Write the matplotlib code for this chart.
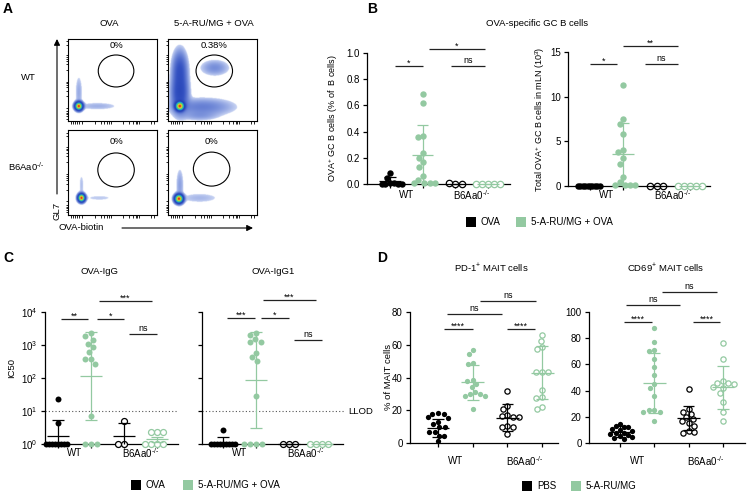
import numpy as np
import matplotlib
matplotlib.use('Agg')
import matplotlib.pyplot as plt
from matplotlib.patches import Ellipse, Rectangle
from matplotlib.colors import LinearSegmentedColormap

plt.rcParams['font.family'] = ['Liberation Sans', 'DejaVu Sans']
plt.rcParams['mathtext.fontset'] = 'custom'
plt.rcParams['mathtext.rm'] = 'Liberation Sans'
plt.rcParams['mathtext.it'] = 'Liberation Sans:italic'
plt.rcParams['mathtext.bf'] = 'Liberation Sans:bold'

W, H = 748, 495
GREEN = '#93c9a1'

# ---------------- DATA ----------------
genotypes = ['WT', 'B6Aa0$^{\\text{-/-}}$']
flow_cols = ['OVA', '5-A-RU/MG + OVA']
flow_rows = ['WT', 'B6Aa0$^{\\text{-/-}}$']
flow_pct = [['0%', '0.38%'], ['0%', '0%']]
legend_BC = ['OVA', '5-A-RU/MG + OVA']
legend_D = ['PBS', '5-A-RU/MG']

# flow density blobs: (cx, cy, sx, sy, weight)
A_wt_ova = [(0.12, 0.18, 0.022, 0.025, 1.0), (0.12, 0.35, 0.025, 0.13, 0.008), (0.33, 0.18, 0.15, 0.03, 0.007)]
A_wt_5a = [(0.13, 0.18, 0.025, 0.028, 1.0), (0.13, 0.34, 0.05, 0.13, 0.08), (0.13, 0.62, 0.045, 0.13, 0.06),
           (0.38, 0.17, 0.2, 0.06, 0.022), (0.52, 0.65, 0.09, 0.055, 0.016), (0.35, 0.06, 0.12, 0.035, 0.01)]
A_ko_ova = [(0.15, 0.2, 0.02, 0.024, 1.0), (0.15, 0.35, 0.02, 0.1, 0.005), (0.35, 0.2, 0.15, 0.03, 0.004)]
A_ko_5a = [(0.12, 0.19, 0.024, 0.026, 1.0), (0.13, 0.35, 0.025, 0.12, 0.01), (0.35, 0.2, 0.15, 0.04, 0.006)]

# Panel B left: OVA+ GC B cells (% of B cells)
b1_wt_ova = [0.085, 0.045, 0.01, 0.005, 0.0, 0.0, 0.0, 0.0]
b1_wt_5a = [0.685, 0.62, 0.37, 0.355, 0.24, 0.2, 0.165, 0.13, 0.06, 0.03, 0.01, 0.01, 0.01, 0.01]
b1_ko_ova = [0.0, 0.005, 0.0]
b1_ko_5a = [0.0, 0.0, 0.0, 0.0, 0.0]
b1_mean = [0.02, 0.22, 0.0, 0.0]
b1_sd = [0.03, 0.23, 0.0, 0.0]

# Panel B right: total OVA+ GC B cells in mLN (10^3)
b2_wt_ova = [0.0, 0.0, 0.0, 0.0, 0.0, 0.0, 0.0, 0.0, 0.0, 0.0]
b2_wt_5a = [11.3, 7.5, 6.9, 5.8, 4.0, 3.8, 3.1, 2.5, 1.0, 0.4, 0.15, 0.1, 0.1, 0.1]
b2_ko_ova = [0.0, 0.0, 0.0]
b2_ko_5a = [0.0, 0.0, 0.0, 0.0, 0.0]
b2_mean = [0.0, 3.55, 0.0, 0.0]
b2_sd = [0.0, 3.45, 0.0, 0.0]

# Panel C left: OVA-IgG IC50 (geometric mean, geometric SD factor)
c1_wt_ova = [23, 4.2, 1, 1, 1, 1, 1, 1, 1, 1]
c1_wt_5a = [2240, 1900, 1450, 1100, 850, 600, 380, 370, 270, 7, 1, 1, 1]
c1_ko_ova = [5.0, 1, 1]
c1_ko_5a = [2.3, 2.3, 2.3, 1, 1, 1, 1]
c1_mean = [1.8, 115, 1.75, 1.4]
c1_gsd = [3.06, 21.3, 2.46, 1.2]

# Panel C right: OVA-IgG1 IC50
c2_wt_ova = [2.7, 1, 1, 1, 1, 1, 1, 1, 1, 1]
c2_wt_5a = [2350, 2000, 1500, 1250, 1250, 590, 425, 330, 28, 1, 1, 1, 1]
c2_ko_ova = [1, 1, 1]
c2_ko_5a = [1, 1, 1, 1]
c2_mean = [1.1, 87, 1.0, 1.0]
c2_gsd = [1.45, 28.0, 1.0, 1.0]
LLOD = 10

# Panel D left: PD-1+ MAIT cells (% of MAIT)
d1_wt_pbs = [18.5, 18, 17.5, 16, 15.5, 13, 11.5, 9.5, 9.5, 7, 7, 4.5, 4, 1]
d1_wt_5a = [57, 54.5, 49, 48, 38.5, 38, 36, 34, 31, 30, 30, 29, 28.5, 21]
d1_ko_pbs = [31.5, 22.5, 20.5, 17, 16.5, 16, 16, 10.5, 10, 9.5, 5.5]
d1_ko_5a = [66, 62.5, 58.5, 57.5, 43.5, 43.5, 43.5, 32.5, 28, 27.5, 22, 21]
d1_mean = [9.0, 37.0, 15.5, 43.0]
d1_sd = [5.6, 10.5, 8.3, 16.0]

# Panel D right: CD69+ MAIT cells (% of MAIT)
d2_wt_pbs = [14.5, 13, 12.5, 12, 11, 10, 9, 8, 7.5, 7, 6, 5, 4.5, 4, 3]
d2_wt_5a = [88, 77, 71, 70, 64, 58, 52, 45, 42, 36, 25, 25, 24, 24, 17]
d2_ko_pbs = [41.5, 26, 24, 22, 20, 18, 17, 15, 13, 9, 8, 8.5]
d2_ko_5a = [76, 64, 47, 46, 45.5, 45, 43, 42, 38, 31, 24, 17]
d2_mean = [8.6, 45.6, 19.0, 42.5]
d2_sd = [4.0, 23.0, 9.0, 16.3]

# significance bars: (x start, x end, y, label)
b1_sig = [(0.15, 1.0, 0.90, '*'), (1.2, 2.9, 1.03, '*'), (1.87, 2.9, 0.90, 'ns')]
b2_sig = [(0.0, 0.81, 13.7, '*'), (1.0, 2.64, 15.7, '**'), (1.65, 2.64, 13.7, 'ns')]
c1_sig = [(0.09, 0.91, 6170, '**'), (1.18, 2.0, 6170, '*'), (1.24, 2.85, 21400, '***'), (2.15, 3.0, 2140, 'ns')]
c2_sig = [(0.12, 0.97, 6600, '***'), (1.15, 2.0, 6600, '*'), (1.21, 2.82, 22900, '***'), (2.15, 3.0, 1410, 'ns')]
d1_sig = [(0.17, 1.0, 69.5, '****'), (0.26, 1.84, 78.7, 'ns'), (2.0, 2.8, 69.5, '****'), (1.2, 2.82, 86.6, 'ns')]
d2_sig = [(0.12, 0.93, 92.4, '****'), (0.17, 1.75, 105, 'ns'), (2.13, 2.92, 92.4, '****'), (1.22, 2.83, 115, 'ns')]

# ---------------- LAYOUT ----------------
fig = plt.figure(figsize=(W / 100, H / 100), dpi=100)


def px_rect(x0, y0, x1, y1):
    return [x0 / W, 1 - y1 / H, (x1 - x0) / W, (y1 - y0) / H]


LAY = {
    'B1': dict(box=(367, 53, 510, 184), g0=390, sp=32.7),
    'B2': dict(box=(568, 52, 710, 186), g0=590, sp=33.3),
    'C1': dict(box=(45, 312, 178, 444), g0=58, sp=33.0),
    'C2': dict(box=(202, 312, 343, 444), g0=223, sp=33.0),
    'D1': dict(box=(410, 312, 558, 443), g0=438, sp=34.7),
    'D2': dict(box=(589, 312, 745, 443), g0=620, sp=34.3),
}

FACE = ['black', GREEN, 'white', 'white']
EDGE = ['black', GREEN, 'black', GREEN]


def swarm(ypx, d):
    placed = []
    xs = []
    for y in ypx:
        cands = [0.0]
        intervals = []
        for (px, py) in placed:
            dy = abs(py - y)
            if dy < d:
                w = np.sqrt(d * d - dy * dy)
                intervals.append((px - w, px + w))
                cands += [px - w, px + w]
        best = 0.0
        for c in sorted(cands, key=lambda v: (abs(v), v)):
            if all(not (a + 1e-6 < c < b - 1e-6) for a, b in intervals):
                best = c
                break
        placed.append((best, y))
        xs.append(best)
    return np.array(xs)


def make_axes(key, ylo, yhi, log=False):
    lay = LAY[key]
    x0, y0, x1, y1 = lay['box']
    ax = fig.add_axes(px_rect(x0, y0, x1, y1))
    ax.set_xlim((x0 - lay['g0']) / lay['sp'], (x1 - lay['g0']) / lay['sp'])
    if log:
        ax.set_yscale('log')
    ax.set_ylim(ylo, yhi)
    ax.patch.set_alpha(0)
    for s in ['top', 'right']:
        ax.spines[s].set_visible(False)
    for s in ['left', 'bottom']:
        ax.spines[s].set_linewidth(0.9)
    ax.set_xticks([0, 1, 2, 3])
    ax.set_xticklabels([])
    ax.tick_params(axis='both', direction='out', length=3.2, width=0.9, labelsize=7, pad=2)
    ax.tick_params(axis='y', which='minor', left=False)
    return ax


def draw_groups(ax, key, groups, means, sds, ylo, yhi, log, ms, maxhalf=12):
    lay = LAY[key]
    x0, y0, x1, y1 = lay['box']
    hpx = y1 - y0
    if log:
        ppu = hpx / (np.log10(yhi) - np.log10(ylo))
        tr = lambda v: np.log10(np.asarray(v, float)) * ppu
    else:
        ppu = hpx / (yhi - ylo)
        tr = lambda v: np.asarray(v, float) * ppu
    dpx = ms / 0.72 + 0.5
    for i, vals in enumerate(groups):
        xs = swarm(tr(vals), dpx)
        m = np.max(np.abs(xs)) if len(xs) else 0
        if m > maxhalf:
            xs = xs * maxhalf / m
        xd = i + xs / lay['sp']
        ax.plot(xd, vals, ls='none', marker='o', ms=ms, mfc=FACE[i], mec=EDGE[i],
                mew=0.9 if i >= 2 else 0.0, clip_on=False, zorder=3)
        mu, s = means[i], sds[i]
        if log:
            hi, lo = mu * s, mu / s
        else:
            hi, lo = mu + s, mu - s
        lo_c = max(lo, ylo)
        col = EDGE[i]
        kw = dict(color=col, lw=0.9, zorder=4, clip_on=False, solid_capstyle='butt')
        ax.plot([i, i], [lo_c, hi], **kw)
        ax.plot([i - 0.17, i + 0.17], [hi, hi], **kw)
        if lo > ylo:
            ax.plot([i - 0.17, i + 0.17], [lo, lo], **kw)
        ax.plot([i - 0.33, i + 0.33], [mu, mu], **kw)


def sig(ax, bars):
    for xa, xb, y, lab in bars:
        ax.plot([xa, xb], [y, y], color='#222222', lw=0.9, clip_on=False, solid_capstyle='butt')
        ax.annotate(lab, xy=((xa + xb) / 2, y), xytext=(0, 0.8 if lab == 'ns' else -1.2),
                    textcoords='offset points', ha='center', va='bottom', fontsize=6.5,
                    annotation_clip=False)


# ---- Panel B ----
axb1 = make_axes('B1', 0, 1.0)
axb1.set_yticks([0, 0.2, 0.4, 0.6, 0.8, 1.0])
axb1.set_yticklabels(['0.0', '0.2', '0.4', '0.6', '0.8', '1.0'])
draw_groups(axb1, 'B1', [b1_wt_ova, b1_wt_5a, b1_ko_ova, b1_ko_5a], b1_mean, b1_sd, 0, 1.0, False, 4.6)
sig(axb1, b1_sig)

axb2 = make_axes('B2', 0, 15)
axb2.set_yticks([0, 5, 10, 15])
draw_groups(axb2, 'B2', [b2_wt_ova, b2_wt_5a, b2_ko_ova, b2_ko_5a], b2_mean, b2_sd, 0, 15, False, 4.6)
sig(axb2, b2_sig)

# ---- Panel C ----
for key, grp, mn, gs, sg, lab in [
        ('C1', [c1_wt_ova, c1_wt_5a, c1_ko_ova, c1_ko_5a], c1_mean, c1_gsd, c1_sig, True),
        ('C2', [c2_wt_ova, c2_wt_5a, c2_ko_ova, c2_ko_5a], c2_mean, c2_gsd, c2_sig, False)]:
    ax = make_axes(key, 1, 1e4, log=True)
    ax.set_yticks([1, 10, 100, 1000, 10000])
    ax.yaxis.set_minor_locator(matplotlib.ticker.NullLocator())
    if lab:
        ax.set_yticklabels(['10$^{0}$', '10$^{1}$', '10$^{2}$', '10$^{3}$', '10$^{4}$'])
    else:
        ax.set_yticklabels([])
    xl = ax.get_xlim()
    xr = xl[1] if lab else xl[1] + 0.05
    ax.plot([xl[0], xr], [LLOD, LLOD], ls=(0, (1, 2)), color='#555555', lw=0.8, clip_on=False, zorder=1)
    draw_groups(ax, key, grp, mn, gs, 1, 1e4, True, 4.3)
    sig(ax, sg)
    if not lab:
        ax.text(xr + 0.12, LLOD, 'LLOD', fontsize=6.8, va='center', ha='left')

# ---- Panel D ----
axd1 = make_axes('D1', 0, 80)
axd1.set_yticks([0, 20, 40, 60, 80])
draw_groups(axd1, 'D1', [d1_wt_pbs, d1_wt_5a, d1_ko_pbs, d1_ko_5a], d1_mean, d1_sd, 0, 80, False, 3.8)
sig(axd1, d1_sig)

axd2 = make_axes('D2', 0, 100)
axd2.set_yticks([0, 20, 40, 60, 80, 100])
draw_groups(axd2, 'D2', [d2_wt_pbs, d2_wt_5a, d2_ko_pbs, d2_ko_5a], d2_mean, d2_sd, 0, 100, False, 3.8)
sig(axd2, d2_sig)

# ---- Panel A flow plots ----
cmap = LinearSegmentedColormap.from_list('flow', [
    (0.0, '#c9d4f3'), (0.25, '#7d94dc'), (0.5, '#3452c2'), (0.68, '#1e3cb0'), (0.78, '#1fa6e6'),
    (0.87, '#44d364'), (0.94, '#f3e430'), (1.0, '#e0201c')])
cmap.set_bad('white')
flow_boxes = [[(68, 39, 157, 121), (168, 39, 257, 121)], [(68, 130, 157, 215), (168, 130, 257, 215)]]
flow_blobs = [[A_wt_ova, A_wt_5a], [A_ko_ova, A_ko_5a]]
gates = [[(0.54, 0.61, 0.40, 0.39), (0.52, 0.61, 0.41, 0.39)], [(0.54, 0.53, 0.41, 0.40), (0.49, 0.54, 0.41, 0.40)]]
pct_y = [0.915, 0.86]
tick_fr = [0.03, 0.06, 0.08, 0.1, 0.12, 0.16, 0.3, 0.37, 0.41, 0.44, 0.46, 0.48, 0.62, 0.69, 0.73, 0.76, 0.78, 0.8, 0.93, 0.97]
g = np.linspace(0, 1, 200)
X, Y = np.meshgrid(g, g)
T = 2.5
for r in range(2):
    for c in range(2):
        ax = fig.add_axes(px_rect(*flow_boxes[r][c]))
        Z = np.zeros_like(X)
        for cx, cy, sx, sy, w in flow_blobs[r][c]:
            Z += w * np.exp(-0.5 * (((X - cx) / sx) ** 2 + ((Y - cy) / sy) ** 2))
        L = np.log10(Z / Z.max() + 1e-12)
        N = np.ma.masked_less((L + T) / T, 0.0)
        ax.imshow(N, origin='lower', extent=[0, 1, 0, 1], cmap=cmap, vmin=0, vmax=1,
                  interpolation='bilinear', aspect='auto')
        ex, ey, ew, eh = gates[r][c]
        ax.add_patch(Ellipse((ex, ey), ew, eh, fill=False, lw=0.8, ec='black'))
        ax.text(ex, pct_y[r], flow_pct[r][c], ha='center', va='center', fontsize=6.8)
        ax.set_xlim(0, 1)
        ax.set_ylim(0, 1)
        ax.set_xticks(tick_fr)
        ax.set_yticks(tick_fr)
        ax.set_xticklabels([])
        ax.set_yticklabels([])
        ax.tick_params(length=1.8, width=0.6, direction='out')
        for s in ax.spines.values():
            s.set_linewidth(0.8)

# ---------------- OVERLAY (text, arrows, legends) ----------------
ov = fig.add_axes([0, 0, 1, 1])
ov.set_xlim(0, W)
ov.set_ylim(H, 0)
ov.axis('off')
ov.patch.set_alpha(0)

for lab, (x, y) in zip('ABCD', [(8, 9), (372, 9), (8, 258), (382, 258)]):
    ov.text(x, y, lab, fontsize=10, fontweight='bold', ha='center', va='center')

# panel A annotations
ov.text(109, 24, flow_cols[0], fontsize=6.8, ha='center', va='center')
ov.text(213.5, 24, flow_cols[1], fontsize=6.8, ha='center', va='center')
ov.text(28, 78, flow_rows[0], fontsize=6.8, ha='center', va='center')
ov.text(26, 167, flow_rows[1], fontsize=6.8, ha='center', va='center')
ov.annotate('', xy=(57, 39), xytext=(57, 194),
            arrowprops=dict(arrowstyle='-|>', lw=0.8, color='black', mutation_scale=9, shrinkA=0, shrinkB=0))
ov.annotate('', xy=(253, 228), xytext=(122, 228),
            arrowprops=dict(arrowstyle='-|>', lw=0.8, color='black', mutation_scale=9, shrinkA=0, shrinkB=0))
ov.text(57.5, 211, 'GL7', fontsize=6.8, rotation=90, ha='center', va='center')
ov.text(81, 228, 'OVA-biotin', fontsize=6.8, ha='center', va='center')

# titles
ov.text(537, 23, 'OVA-specific GC B cells', fontsize=6.8, ha='center', va='center')
ov.text(100, 271, 'OVA-IgG', fontsize=6.8, ha='center', va='center')
ov.text(273, 271, 'OVA-IgG1', fontsize=6.8, ha='center', va='center')
ov.text(491, 268, 'PD-1$^{+}$ MAIT cells', fontsize=6.8, ha='center', va='center')
ov.text(666, 268, 'CD69$^{+}$ MAIT cells', fontsize=6.8, ha='center', va='center')

# y labels
ov.text(333, 118, 'OVA$^{+}$ GC B cells (% of  B cells)', fontsize=6.5, rotation=90, ha='center', va='center')
ov.text(540, 119, 'Total OVA$^{+}$ GC B cells in mLN (10$^{3}$)', fontsize=6.5, rotation=90, ha='center', va='center')
ov.text(12, 368, 'IC50', fontsize=6.8, rotation=90, ha='center', va='center')
ov.text(389, 377, '% of MAIT cells', fontsize=6.8, rotation=90, ha='center', va='center')

# x group labels
for key, ypos in [('B1', 195), ('B2', 195), ('C1', 453), ('C2', 453), ('D1', 461), ('D2', 461)]:
    lay = LAY[key]
    for j, gname in enumerate(genotypes):
        xc = lay['g0'] + lay['sp'] * (2 * j + 0.5)
        ov.text(xc, ypos, gname, fontsize=7, ha='center', va='center')


def legend(items, xs_sq, y):
    for (txt, col), xs in zip(items, xs_sq):
        ov.add_patch(Rectangle((xs - 5, y - 5), 10, 10, color=col, lw=0))
        ov.text(xs + 10, y, txt, fontsize=7, ha='left', va='center')


legend([(legend_BC[0], 'black'), (legend_BC[1], GREEN)], [471, 521.5], 222)
legend([(legend_BC[0], 'black'), (legend_BC[1], GREEN)], [136, 188], 485)
legend([(legend_D[0], 'black'), (legend_D[1], GREEN)], [527, 576], 486)

fig.savefig('out.png', dpi=100)
